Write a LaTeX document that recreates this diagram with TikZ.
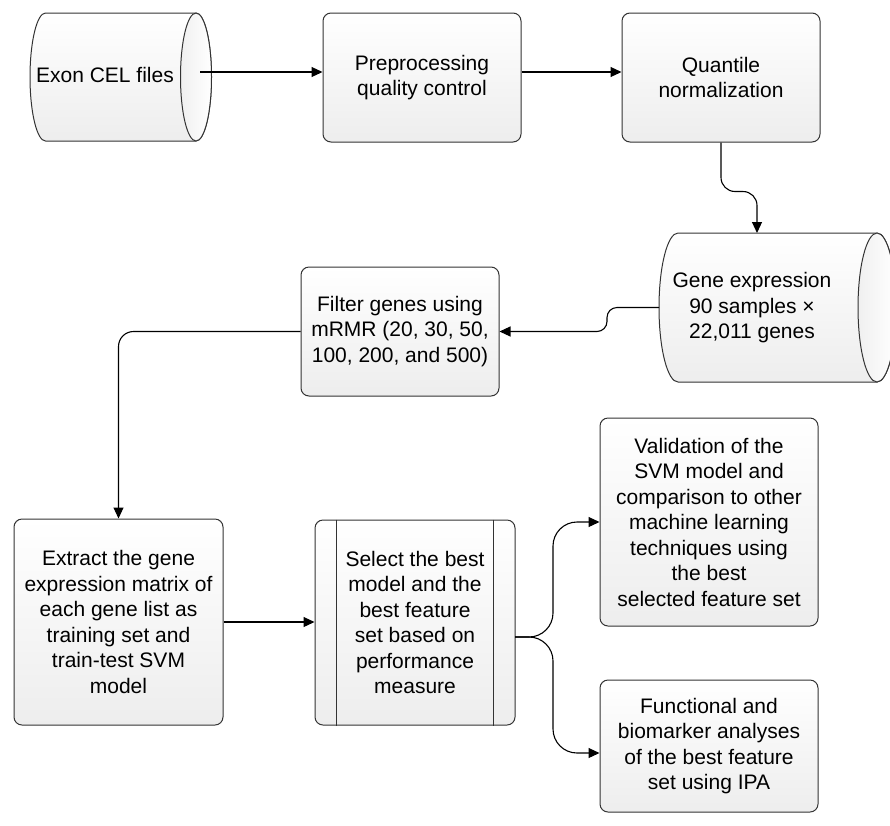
\documentclass[tikz,border=0pt]{standalone}
\usepackage{fontspec}
\setmainfont{Liberation Sans}
\usetikzlibrary{arrows.meta}
\tikzset{
  box/.style={draw=black!80, line width=1pt, rounded corners=8pt, top color=white, bottom color=black!7,
    align=center, inner sep=0pt, font=\fontsize{21}{25.5}\selectfont},
  tank/.style={draw=black!80, line width=1pt, top color=white, bottom color=black!7},
  tankcap/.style={draw=black!80, line width=1pt, left color=black!6, right color=white},
  tanktext/.style={align=center, inner sep=0pt, font=\fontsize{21}{25.5}\selectfont},
  flow/.style={line width=1.1pt, -{Triangle[length=11pt,width=10pt]}}
}
\begin{document}
\begin{tikzpicture}[x=1pt,y=1pt]
      \useasboundingbox (0,0) rectangle (890,-825);
      \shade[tank] (45.5,-13) -- (196,-13) arc[start angle=90, end angle=-90, x radius=15.5, y radius=64]
        -- (45.5,-141) arc[start angle=270, end angle=90, x radius=15.5, y radius=64] -- cycle;
      \shade[tankcap] (196,-77) ellipse[x radius=15.5, y radius=64];
      \shade[tank] (678,-233) -- (877,-233) arc[start angle=90, end angle=-90, x radius=19, y radius=74.5]
        -- (678,-382) arc[start angle=270, end angle=90, x radius=19, y radius=74.5] -- cycle;
      \shade[tankcap] (877,-307.5) ellipse[x radius=19, y radius=74.5];
      \node[tanktext] (cel) at (105,-75) {Exon CEL files};
      \node[tanktext] (gexp) at (752,-308) {Gene expression\\90 samples ×\\22,011 genes};
      \coordinate (celout) at (200,-72);
      \coordinate (gtop) at (757,-233);
      \coordinate (gleft) at (659,-307.5);
      \node[box, minimum width=198pt, minimum height=129pt] (pre) at (422,-77.5) {Preprocessing\\quality control};
      \node[box, minimum width=198pt, minimum height=129pt] (quant) at (721,-77.5) {Quantile\\normalization};
      \node[box, minimum width=198pt, minimum height=129pt] (filter) at (400,-331.5) {Filter genes using\\mRMR (20, 30, 50,\\100, 200, and 500)};
      \node[box, minimum width=209pt, minimum height=206pt] (extract) at (118.5,-622) {Extract the gene\\expression matrix of\\each gene list as\\training set and\\train-test SVM\\model};
      \node[box, minimum width=200pt, minimum height=205pt] (select) at (415,-622.5) {Select the best\\model and the\\best feature\\set based on\\performance\\measure};
      \draw[line width=1pt, draw=black!80]
        ([xshift=22pt]select.north west) -- ([xshift=22pt]select.south west)
        ([xshift=-22pt]select.north east) -- ([xshift=-22pt]select.south east);
      \node[box, minimum width=218pt, minimum height=208pt] (valid) at (709,-522) {Validation of the\\SVM model and\\comparison to other\\machine learning\\techniques using\\the best\\selected feature set};
      \node[box, minimum width=218pt, minimum height=132pt] (func) at (709,-746) {Functional and\\biomarker analyses\\of the best feature\\set using IPA};
      \coordinate (fork) at (515,-637);
      \begin{scope}[flow]
        \draw (celout) -- (celout -| pre.west);
        \draw ([yshift=5.5pt]pre.east) -- ([yshift=5.5pt]quant.west);
        \draw[rounded corners=14pt] (quant.south) -- ++(0,-49) -| (gtop);
        \draw[rounded corners=10pt] (gleft) -- (607,-307.5) |- (filter.east);
        \draw[rounded corners=15pt] (filter.west) -| (extract.north);
        \draw (extract.east) -- (extract.east -| select.west);
        \draw[rounded corners=24pt] (fork) -- (553,-637) |- (valid.west);
        \draw[rounded corners=24pt] (fork) -- (553,-637) |- ([yshift=-7pt]func.west);
      \end{scope}
    \end{tikzpicture}
\end{document}
